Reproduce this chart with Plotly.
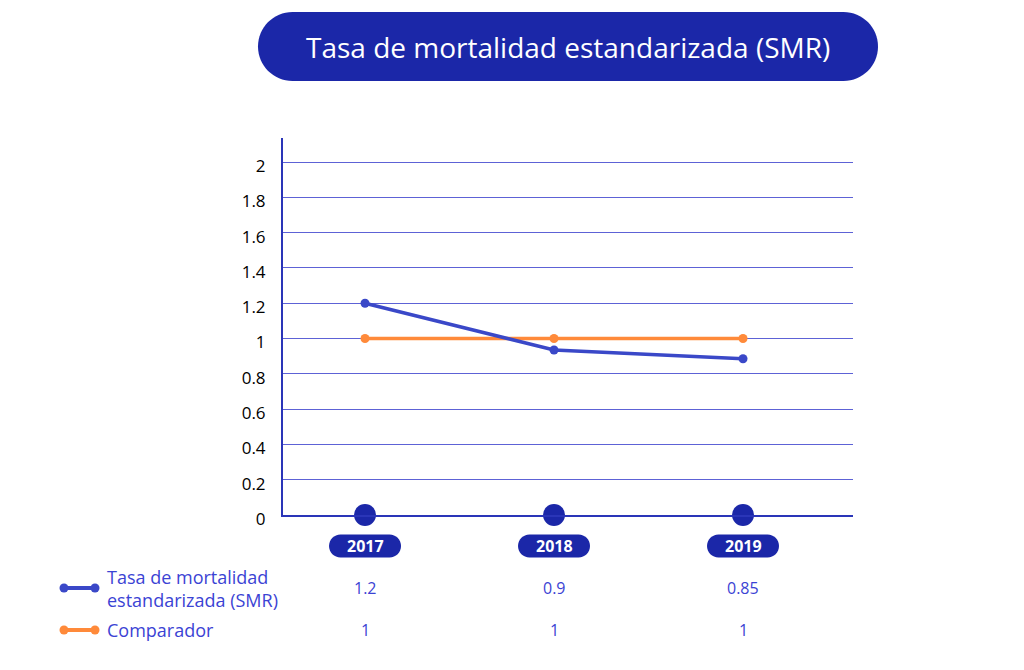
import plotly.graph_objects as go

years = ["2017", "2018", "2019"]
smr_vals = [1.2, 0.935, 0.885]
comp_vals = [1, 1, 1]
smr_labels = ["1.2", "0.9", "0.85"]
comp_labels = ["1", "1", "1"]
y_ticks = [0, 0.2, 0.4, 0.6, 0.8, 1, 1.2, 1.4, 1.6, 1.8, 2]
y_tick_text = ["0", "0.2", "0.4", "0.6", "0.8", "1", "1.2", "1.4", "1.6", "1.8", "2"]

NAVY = "#1b27a8"
BLUE = "#3a48c8"
ORANGE = "#ff8a3a"
TXT_BLUE = "#3b43d4"
FONT = "Open Sans"

# page puts the figure 8px in from the window corner
OFF = 8
W, H = 1024, 670
L, T = 283 - OFF, 138 - OFF
R, B = W - (853 - OFF), H - (515 - OFF)
PW, PH = W - L - R, H - T - B


def px_x(p):
    return (p - OFF - L) / PW


def px_y(p):
    return (H - B - (p - OFF)) / PH


def pill_path(w, h):
    # rounded rectangle centred on the anchor, in pixels
    r = h / 2
    k = 0.5523 * r
    x0, x1 = -w / 2, w / 2
    y0, y1 = -h / 2, h / 2
    return (
        f"M {x0 + r},{y0} L {x1 - r},{y0} "
        f"C {x1 - r + k},{y0} {x1},{-k} {x1},0 "
        f"C {x1},{k} {x1 - r + k},{y1} {x1 - r},{y1} "
        f"L {x0 + r},{y1} "
        f"C {x0 + r - k},{y1} {x0},{k} {x0},0 "
        f"C {x0},{-k} {x0 + r - k},{y0} {x0 + r},{y0} Z"
    )


xs = list(range(len(years)))

fig = go.Figure()
fig.add_trace(go.Scatter(
    x=xs, y=comp_vals, mode="lines+markers", name="Comparador",
    line=dict(color=ORANGE, width=3.5), marker=dict(size=9, color=ORANGE),
    showlegend=False
))
fig.add_trace(go.Scatter(
    x=xs, y=smr_vals, mode="lines+markers", name="Tasa de mortalidad estandarizada (SMR)",
    line=dict(color=BLUE, width=3.5), marker=dict(size=9, color=BLUE),
    showlegend=False
))
# big dots sitting on the x axis
fig.add_trace(go.Scatter(
    x=xs, y=[0] * len(xs), mode="markers", cliponaxis=False,
    marker=dict(size=22, color=NAVY), showlegend=False, hoverinfo="skip"
))

shapes = []
annotations = []

# title pill
shapes.append(dict(
    type="path", xref="paper", yref="paper", xsizemode="pixel", ysizemode="pixel",
    xanchor=px_x(568), yanchor=px_y(46.5), path=pill_path(620, 69),
    fillcolor=NAVY, line=dict(width=0)
))
annotations.append(dict(
    text="Tasa de mortalidad estandarizada (SMR)", xref="paper", yref="paper",
    x=px_x(568), y=px_y(46.5), yanchor="middle", showarrow=False,
    font=dict(family=FONT, size=28, color="white")
))

# year pills
for i, yr in enumerate(years):
    shapes.append(dict(
        type="path", xref="x", yref="paper", xsizemode="pixel", ysizemode="pixel",
        xanchor=i, yanchor=px_y(546), path=pill_path(72, 23),
        fillcolor=NAVY, line=dict(width=0)
    ))
    annotations.append(dict(
        text=f"<b>{yr}</b>", xref="x", yref="paper", x=i, y=px_y(546),
        yanchor="middle", showarrow=False,
        font=dict(family=FONT, size=16, color="white")
    ))

# table rows
rows = [
    ("Tasa de mortalidad<br>estandarizada (SMR)", smr_labels, BLUE, 588),
    ("Comparador", comp_labels, ORANGE, 630),
]
for label, vals, col, ypx in rows:
    shapes.append(dict(
        type="line", xref="paper", yref="paper",
        x0=px_x(64), x1=px_x(95), y0=px_y(ypx), y1=px_y(ypx),
        line=dict(color=col, width=4)
    ))
    for cx in (64, 95):
        shapes.append(dict(
            type="circle", xref="paper", yref="paper", xsizemode="pixel", ysizemode="pixel",
            xanchor=px_x(cx), yanchor=px_y(ypx), x0=-4.5, x1=4.5, y0=-4.5, y1=4.5,
            fillcolor=col, line=dict(width=0)
        ))
    annotations.append(dict(
        text=label, xref="paper", yref="paper", x=px_x(106), y=px_y(ypx),
        xanchor="left", yanchor="middle", align="left", showarrow=False,
        borderpad=0,
        font=dict(family=FONT, size=18, color=TXT_BLUE)
    ))
    for i, v in enumerate(vals):
        annotations.append(dict(
            text=v, xref="x", yref="paper", x=i, y=px_y(ypx),
            yanchor="middle", showarrow=False,
            font=dict(family=FONT, size=16, color=TXT_BLUE)
        ))

fig.update_layout(
    width=W, height=H, margin=dict(l=L, r=R, t=T, b=B),
    plot_bgcolor="white", paper_bgcolor="white",
    shapes=shapes, annotations=annotations,
    font=dict(family=FONT, color="black"),
)
fig.update_xaxes(
    range=[-0.434, 2.582], showticklabels=False, showgrid=False, zeroline=False,
    showline=True, linecolor="#2a35b8", linewidth=2, ticks=""
)
fig.update_yaxes(
    range=[0, 2.136], tickvals=y_ticks, ticktext=y_tick_text,
    showgrid=True, gridcolor="#5d62d6", gridwidth=1, zeroline=False,
    showline=True, linecolor="#2a35b8", linewidth=2, ticks="",
    tickfont=dict(family=FONT, size=17, color="black"),
    ticklabelstandoff=12, ticklabelshift=4
)

fig.write_html("out.html")
